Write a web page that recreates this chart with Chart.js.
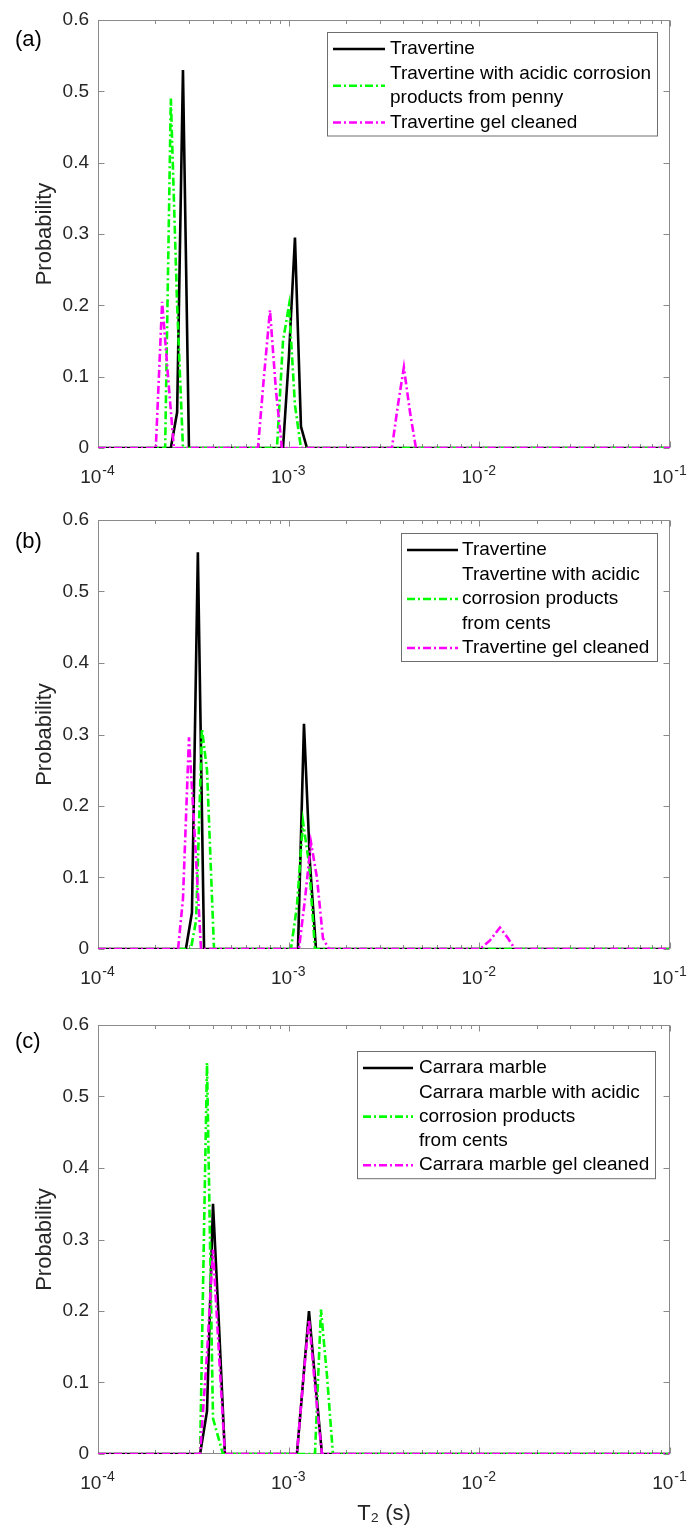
<!DOCTYPE html>
<html>
<head>
<meta charset="utf-8">
<script src="https://cdn.jsdelivr.net/npm/chart.js@4.4.1/dist/chart.umd.min.js"></script>
<style>
html,body{margin:0;padding:0;background:#fff;width:688px;height:1531px;overflow:hidden}
canvas{position:absolute;left:0;display:block}
</style>
</head>
<body>
<canvas id="ca" width="688" height="500" style="top:0px"></canvas>
<canvas id="cb" width="688" height="500" style="top:500px"></canvas>
<canvas id="cc" width="688" height="531" style="top:1000px"></canvas>
<script>
// ---------- axis ticks ----------
const xTickValues = [1e-4, 1e-3, 1e-2, 1e-1];
const xTickBase = '10';
const xTickExponents = ['-4', '-3', '-2', '-1'];
const yTickValues = [0, 0.1, 0.2, 0.3, 0.4, 0.5, 0.6];
const yTickLabels = ['0', '0.1', '0.2', '0.3', '0.4', '0.5', '0.6'];

// ---------- panel (a) ----------
const aLabels = [['Travertine'], ['Travertine with acidic corrosion', 'products from penny'], ['Travertine gel cleaned']];
const aBlackT2 = [1e-4, 2.41e-4, 2.60e-4, 2.79e-4, 3.00e-4, 9.34e-4, 1.004e-3, 1.079e-3, 1.160e-3, 1.247e-3, 1e-1];
const aBlackP  = [0, 0, 0.05, 0.53, 0, 0, 0.13, 0.295, 0.03, 0, 0];
const aGreenT2 = [1e-4, 2.25e-4, 2.41e-4, 2.60e-4, 2.79e-4, 8.68e-4, 9.34e-4, 1.004e-3, 1.079e-3, 1.160e-3, 1e-1];
const aGreenP  = [0, 0, 0.49, 0.2, 0, 0, 0.15, 0.2, 0.06, 0, 0];
const aMagT2   = [1e-4, 2.01e-4, 2.17e-4, 2.33e-4, 2.50e-4, 6.90e-4, 7.42e-4, 7.98e-4, 8.58e-4, 9.22e-4, 3.48e-3, 3.74e-3, 4.02e-3, 4.33e-3, 4.65e-3, 1e-1];
const aMagP    = [0, 0, 0.205, 0.1, 0, 0, 0.1, 0.193, 0.08, 0, 0, 0.06, 0.113, 0.05, 0, 0];

// ---------- panel (b) ----------
const bLabels = [['Travertine'], ['Travertine with acidic', 'corrosion products', 'from cents'], ['Travertine gel cleaned']];
const bBlackT2 = [1e-4, 2.89e-4, 3.11e-4, 3.34e-4, 3.60e-4, 1.119e-3, 1.203e-3, 1.293e-3, 1.391e-3, 1e-1];
const bBlackP  = [0, 0, 0.051, 0.555, 0, 0, 0.315, 0.12, 0, 0];
const bGreenT2 = [1e-4, 3.07e-4, 3.27e-4, 3.51e-4, 3.73e-4, 4.06e-4, 1.028e-3, 1.105e-3, 1.189e-3, 1.278e-3, 1.374e-3, 1e-1];
const bGreenP  = [0, 0, 0.04, 0.308, 0.25, 0, 0, 0.06, 0.178, 0.12, 0, 0];
const bMagT2   = [1e-4, 2.63e-4, 2.79e-4, 3.00e-4, 3.23e-4, 3.47e-4, 1.132e-3, 1.218e-3, 1.309e-3, 1.407e-3, 1.513e-3, 1.627e-3, 1.007e-2, 1.137e-2, 1.282e-2, 1.413e-2, 1.537e-2, 1e-1];
const bMagP    = [0, 0, 0.07, 0.296, 0.15, 0, 0, 0.07, 0.149, 0.1, 0.015, 0, 0, 0.012, 0.03, 0.015, 0, 0];

// ---------- panel (c) ----------
const cLabels = [['Carrara marble'], ['Carrara marble with acidic', 'corrosion products', 'from cents'], ['Carrara marble gel cleaned']];
const cBlackT2 = [1e-4, 3.43e-4, 3.73e-4, 4.01e-4, 4.31e-4, 4.63e-4, 1.105e-3, 1.189e-3, 1.278e-3, 1.391e-3, 1.495e-3, 1e-1];
const cBlackP  = [0, 0, 0.06, 0.35, 0.18, 0, 0, 0.1, 0.2, 0.09, 0, 0];
const cGreenT2 = [1e-4, 3.43e-4, 3.73e-4, 4.01e-4, 4.52e-4, 1.374e-3, 1.477e-3, 1.588e-3, 1.707e-3, 1e-1];
const cGreenP  = [0, 0, 0.547, 0.05, 0, 0, 0.202, 0.11, 0, 0];
const cMagT2   = [1e-4, 3.43e-4, 3.73e-4, 4.01e-4, 4.31e-4, 4.63e-4, 1.105e-3, 1.189e-3, 1.278e-3, 1.391e-3, 1.495e-3, 1e-1];
const cMagP    = [0, 0, 0.14, 0.286, 0.14, 0, 0, 0.1, 0.188, 0.08, 0, 0];

// ---------- rendering ----------
const FONT = "'Liberation Sans', Arial, Helvetica, sans-serif";
Chart.defaults.font.family = FONT;
Chart.defaults.color = '#262626';

const pts = (xs, ys) => xs.map((x, i) => ({x: x, y: ys[i]}));
const DASH = [8, 3, 2, 3];

function makeDatasets(labels, bx, by, gx, gy, mx, my) {
  const common = {pointRadius: 0, borderWidth: 2.6, tension: 0, fill: false, borderCapStyle: 'butt', borderJoinStyle: 'miter'};
  return [
    Object.assign({label: labels[0].join(' '), data: pts(bx, by), borderColor: '#000000', order: 3}, common),
    Object.assign({label: labels[1].join(' '), data: pts(gx, gy), borderColor: '#00ff00', borderDash: DASH, order: 2}, common),
    Object.assign({label: labels[2].join(' '), data: pts(mx, my), borderColor: '#ff00ff', borderDash: DASH, order: 1}, common)
  ];
}

const framePlugin = {
  id: 'frame',
  beforeDatasetsDraw(chart, args, o) {
    const ctx = chart.ctx, ca = chart.chartArea, xs = chart.scales.x, ys = chart.scales.y;
    ctx.save();
    ctx.strokeStyle = '#8a8a8a';
    ctx.lineWidth = 1;
    const L = Math.round(ca.left) + 0.5, R = Math.round(ca.right) - 0.5;
    const T = Math.round(ca.top) + 0.5, B = Math.round(ca.bottom) - 0.5;
    ctx.strokeRect(L, T, R - L, B - T);
    ctx.beginPath();
    yTickValues.forEach(v => {
      const p = Math.round(ys.getPixelForValue(v)) + 0.5;
      ctx.moveTo(L, p); ctx.lineTo(L + 6, p);
      ctx.moveTo(R, p); ctx.lineTo(R - 6, p);
    });
    for (let e = -4; e <= -1; e++) {
      for (let k = 1; k <= 9; k++) {
        const v = k * Math.pow(10, e);
        if (v > 0.1 * 1.0001) break;
        const p = Math.round(xs.getPixelForValue(v)) + 0.5;
        const len = k === 1 ? 6 : 3.5;
        ctx.moveTo(p, B); ctx.lineTo(p, B - len);
        ctx.moveTo(p, T); ctx.lineTo(p, T + len);
      }
    }
    ctx.stroke();
    // x tick labels: 10 with raised exponent, placed by the x scale
    ctx.fillStyle = '#262626';
    ctx.textBaseline = 'alphabetic';
    ctx.textAlign = 'left';
    xTickValues.forEach((v, i) => {
      const p = xs.getPixelForValue(v);
      ctx.font = '19px ' + FONT;
      const wb = ctx.measureText(xTickBase).width;
      ctx.font = '14px ' + FONT;
      const we = ctx.measureText(xTickExponents[i]).width;
      const x0 = p - (wb + we) / 2 - 1;
      const yb = ca.bottom + 35;
      ctx.font = '19px ' + FONT;
      ctx.fillText(xTickBase, x0, yb);
      ctx.font = '14px ' + FONT;
      ctx.fillText(xTickExponents[i], x0 + wb + 1, yb - 8);
    });
    ctx.restore();
  },
  afterDatasetsDraw(chart, args, o) {
    const ctx = chart.ctx;
    ctx.save();
    // panel label
    ctx.font = '22px ' + FONT;
    ctx.fillStyle = '#000';
    ctx.textBaseline = 'middle';
    ctx.textAlign = 'left';
    ctx.fillText(o.panel, 15, o.panelY);
    // legend
    const lg = o.legend;
    let nLines = 0;
    o.labels.forEach(l => nLines += l.length);
    const bottom = lg.top + lg.first + (nLines - 1) * lg.step + lg.first - 3;
    ctx.fillStyle = '#fff';
    ctx.fillRect(lg.left, lg.top, lg.right - lg.left, bottom - lg.top);
    ctx.strokeStyle = '#6e6e6e';
    ctx.lineWidth = 1;
    ctx.strokeRect(lg.left + 0.5, lg.top + 0.5, lg.right - lg.left - 1, bottom - lg.top - 1);
    ctx.font = '19px ' + FONT;
    let y = lg.top + lg.first;
    o.labels.forEach((lines, i) => {
      const ds = chart.data.datasets[i];
      const mid = y + (lines.length - 1) * lg.step / 2;
      ctx.strokeStyle = ds.borderColor;
      ctx.lineWidth = ds.borderWidth;
      ctx.setLineDash(ds.borderDash || []);
      ctx.beginPath();
      ctx.moveTo(lg.sx1, mid); ctx.lineTo(lg.sx2, mid);
      ctx.stroke();
      ctx.setLineDash([]);
      ctx.fillStyle = '#000';
      lines.forEach((t, j) => ctx.fillText(t, lg.tx, y + j * lg.step));
      y += lines.length * lg.step;
    });
    ctx.restore();
  }
};

function makeChart(id, datasets, labels, opts) {
  return new Chart(document.getElementById(id), {
    type: 'line',
    data: {datasets: datasets},
    plugins: [framePlugin],
    options: {
      responsive: false,
      animation: false,
      devicePixelRatio: 1,
      layout: {padding: {top: opts.top, right: 18, bottom: 0, left: 0}},
      plugins: {
        legend: {display: false},
        tooltip: {enabled: false},
        frame: {panel: opts.panel, panelY: opts.panelY, labels: labels, legend: opts.legend}
      },
      scales: {
        x: {
          type: 'logarithmic',
          min: 1e-4, max: 1e-1,
          grid: {display: false, drawTicks: false},
          border: {display: false},
          afterBuildTicks: s => { s.ticks = xTickValues.map(v => ({value: v})); },
          afterFit: s => { s.height = opts.xHeight; s.paddingLeft = 0; s.paddingRight = 0; },
          ticks: {display: false},
          title: opts.xTitle ? {display: true, text: 'T₂ (s)', font: {size: 22}, color: '#262626', padding: {top: 0, bottom: 4}} : {display: false}
        },
        y: {
          type: 'linear',
          min: 0, max: 0.6,
          grid: {display: false, drawTicks: false},
          border: {display: false},
          afterBuildTicks: s => { s.ticks = yTickValues.map(v => ({value: v})); },
          afterFit: s => { s.width = 98; s.paddingTop = 0; s.paddingBottom = 0; },
          ticks: {
            padding: 9, font: {size: 19}, color: '#262626',
            callback: v => { const i = yTickValues.findIndex(t => Math.abs(t - v) < 1e-9); return i >= 0 ? yTickLabels[i] : ''; }
          },
          title: {display: true, text: 'Probability', font: {size: 22}, color: '#262626', padding: {top: 32, bottom: 0}}
        }
      }
    }
  });
}

makeChart('ca', makeDatasets(aLabels, aBlackT2, aBlackP, aGreenT2, aGreenP, aMagT2, aMagP), aLabels,
  {top: 20, xHeight: 52, panel: '(a)', panelY: 40, xTitle: false,
   legend: {left: 327, right: 658, top: 32, first: 17, step: 24.5, sx1: 333, sx2: 385, tx: 390}});
makeChart('cb', makeDatasets(bLabels, bBlackT2, bBlackP, bGreenT2, bGreenP, bMagT2, bMagP), bLabels,
  {top: 20, xHeight: 51, panel: '(b)', panelY: 42, xTitle: false,
   legend: {left: 401, right: 658, top: 33, first: 17, step: 24.5, sx1: 407, sx2: 458, tx: 462}});
makeChart('cc', makeDatasets(cLabels, cBlackT2, cBlackP, cGreenT2, cGreenP, cMagT2, cMagP), cLabels,
  {top: 25, xHeight: 77, panel: '(c)', panelY: 42, xTitle: true,
   legend: {left: 357, right: 656, top: 51, first: 17, step: 24.3, sx1: 363, sx2: 413, tx: 419}});
</script>
</body>
</html>
